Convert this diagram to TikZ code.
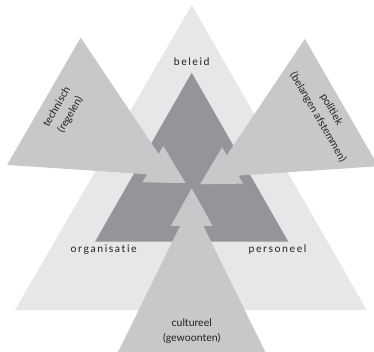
\documentclass[tikz,border=0pt]{standalone}
\usepackage{fontspec}
\setmainfont{Lato}
\newfontfamily\spaced[LetterSpace=15,Ligatures={NoCommon,NoRequired,NoContextual}]{Lato}
\definecolor{biggray}{HTML}{E6E7E8}
\definecolor{arrowgray}{HTML}{C7C8CA}
\definecolor{darkgray}{HTML}{939598}
\definecolor{txt}{HTML}{231F20}
\tikzset{
  arrowshape/.style={fill=arrowgray, draw=none},
  lbl/.style={text=txt, font=\fontsize{10.5}{15.5}\selectfont, align=center, inner sep=0pt},
  slbl/.style={text=txt, font=\fontsize{10.5}{15.5}\selectfont\spaced, inner sep=0pt}
}
\newcommand{\arrowtri}{%
  \fill[arrowshape] (0,0) -- (21,37.7) -- (11.7,37.7) -- (73.5,163.5) -- (-73.5,163.5) -- (-11.7,37.7) -- (-21,37.7) -- cycle;}
\begin{document}
\begin{tikzpicture}[x=1pt,y=-1pt]
\useasboundingbox (0,0) rectangle (374,352);
\clip (0,0) rectangle (374,352);
% big light triangle
\coordinate (B1) at (191.7,5);
\coordinate (B2) at (15,310);
\coordinate (B3) at (366.7,310);
\fill[biggray] (B1) -- (B2) -- (B3) -- cycle;
% dark triangle
\coordinate (D1) at (191.7,72.7);
\coordinate (D2) at (95,241.7);
\coordinate (D3) at (288.3,241.7);
\fill[darkgray] (D1) -- (D2) -- (D3) -- cycle;
% three arrow triangles
\begin{scope}[shift={(191.7,188.3)}]
  \arrowtri
\end{scope}
\begin{scope}[shift={(185.5,183)},rotate=-120]
  \arrowtri
\end{scope}
\begin{scope}[shift={(200,184.3)},rotate=120]
  \arrowtri
\end{scope}
% labels
\node[slbl] (beleid) at (191.7,61.5) {beleid};
\node[slbl] (org) at (103.7,250) {organisatie};
\node[slbl] (pers) at (277.5,250) {personeel};
\node[lbl] (cult) at (191.7,331) {cultureel\\(gewoonten)};
\node[lbl, rotate=60] (tech) at (63.7,111) {technisch\\(regelen)};
\node[lbl, rotate=-60] (pol) at (324.6,113.4) {politiek\\(belangen afstemmen)};
\end{tikzpicture}
\end{document}
